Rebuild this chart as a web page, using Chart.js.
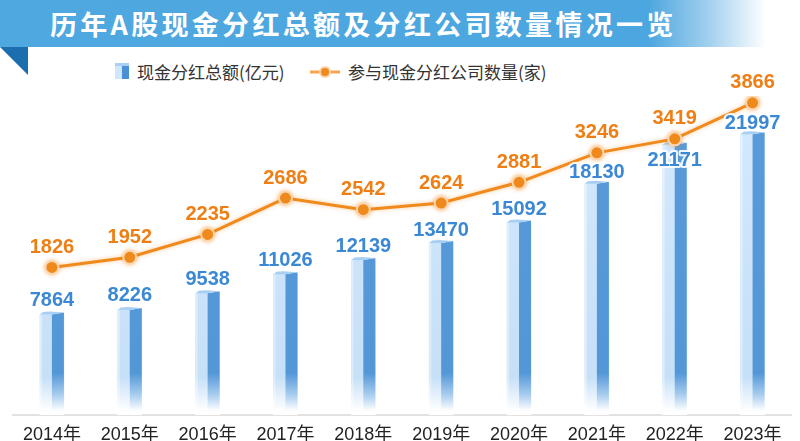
<!DOCTYPE html>
<html>
<head>
<meta charset="utf-8">
<script src="https://cdn.jsdelivr.net/npm/chart.js@4.4.1/dist/chart.umd.min.js"></script>
<style>
    html, body { margin: 0; padding: 0; background: #fff; }
    #wrap { position: relative; width: 800px; height: 441px; overflow: hidden; font-family: "Noto Sans CJK SC", sans-serif; }
    #banner {
        position: absolute; left: 0; top: 0; width: 790px; height: 47px;
        background: linear-gradient(to right, #4fa8e0 0%, #4ca6df 82%, rgba(92,172,226,0.55) 90%, rgba(255,255,255,0) 97%);
    }
    #fold { position: absolute; left: 0; top: 47px; width: 28px; height: 28px; background: #1b6fae; clip-path: polygon(0 0, 100% 0, 100% 100%); }
    #title { position: absolute; left: 50px; top: 0; height: 47px; line-height: 47px; color: #fff; font-weight: bold; font-size: 27px; letter-spacing: 3.3px; white-space: nowrap; }
    .lg { position: absolute; top: 61px; height: 22px; line-height: 22px; font-size: 17px; color: #333; white-space: nowrap; }
    #cube { position: absolute; left: 115px; top: 65px; width: 14px; height: 14px; background: linear-gradient(to right, #cfe6fb 0 50%, #4a90d6 50% 100%); }
    #cube::before { content: ""; position: absolute; left: 0; top: -2px; width: 14px; height: 3px; background: #a9d0f3; }
    #dot { position: absolute; left: 310px; top: 65px; }
    canvas { position: absolute; left: 0; top: 0; }
</style>
</head>
<body>
<div id="wrap">
    <div id="banner"></div>
    <div id="fold"></div>
    <div id="title">历年A股现金分红总额及分红公司数量情况一览</div>
    <div id="cube"></div>
    <div class="lg" style="left:137px">现金分红总额(亿元)</div>
    <svg id="dot" width="30" height="14" viewBox="0 0 30 14">
        <line x1="0" y1="7" x2="30" y2="7" stroke="#f6a451" stroke-width="3"/>
        <circle cx="15" cy="7" r="5" fill="#f08a1c" stroke="#fcd3a6" stroke-width="2"/>
    </svg>
    <div class="lg" style="left:348px">参与现金分红公司数量(家)</div>
    <canvas id="chart" width="800" height="441"></canvas>
</div>
<script>
const years = ["2014年", "2015年", "2016年", "2017年", "2018年", "2019年", "2020年", "2021年", "2022年", "2023年"];
const dividendTotal = [7864, 8226, 9538, 11026, 12139, 13470, 15092, 18130, 21171, 21997];
const companyCount = [1826, 1952, 2235, 2686, 2542, 2624, 2881, 3246, 3419, 3866];

// label placement (px from bar top), some labels sit lower to dodge the line
const barLabelShift = [-14, -14, -14, -14, -14, -13, -13, -11, 16, -11];

const blueText = "#3b88d4";
const orange = "#f08a1c";
const orangeText = "#ef7f14";
const numFont = "bold 20px 'Liberation Sans', Arial, sans-serif";

function fadeGradient(ctx, area, stops) {
    const g = ctx.createLinearGradient(0, area.top, 0, area.bottom);
    const h = area.bottom - area.top;
    stops.forEach(function (s) {
        const p = s[0] < 0 ? (h + s[0]) / h : s[0];
        g.addColorStop(Math.min(1, Math.max(0, p)), s[1]);
    });
    return g;
}

function leftFace(context) {
    const chart = context.chart;
    const area = chart.chartArea;
    if (!area) return "#cfe6fb";
    return fadeGradient(chart.ctx, area, [[0, "#d4e9fd"], [-38, "#c6e0f8"], [-4, "#ffffff"], [1, "#ffffff"]]);
}

const cuboidPlugin = {
    id: "cuboid",
    beforeDatasetDraw(chart, args) {
        if (args.meta.type === "line") {
            chart.ctx.save();
            chart.ctx.shadowColor = "rgba(240,138,28,0.45)";
            chart.ctx.shadowBlur = 4;
        }
    },
    afterDatasetDraw(chart, args) {
        const ctx = chart.ctx;
        if (args.meta.type === "line") {
            ctx.restore();
            return;
        }
        if (args.meta.type !== "bar") return;
        const area = chart.chartArea;
        const dark = fadeGradient(ctx, area, [[0, "#5a9bd9"], [-42, "#5397d7"], [-20, "#a9cdef"], [-4, "#ffffff"], [1, "#ffffff"]]);
        const edge = fadeGradient(ctx, area, [[0, "#e6f3fe"], [-38, "#dbecfb"], [-4, "#ffffff"], [1, "#ffffff"]]);
        args.meta.data.forEach(function (el) {
            const p = el.getProps(["x", "y", "base", "width"], true);
            const x0 = p.x - p.width / 2, xm = p.x, x1 = p.x + p.width / 2;
            const y = p.y, b = p.base;
            // light strip on left edge
            ctx.fillStyle = edge;
            ctx.fillRect(x0, y, 2, b - y);
            // dark right face
            ctx.fillStyle = dark;
            ctx.beginPath();
            ctx.moveTo(xm, y);
            ctx.lineTo(x1, y - 2);
            ctx.lineTo(x1, b);
            ctx.lineTo(xm, b);
            ctx.closePath();
            ctx.fill();
            // top cap
            ctx.fillStyle = "#a6cff3";
            ctx.beginPath();
            ctx.moveTo(x0, y);
            ctx.lineTo(xm, y);
            ctx.lineTo(x1, y - 2);
            ctx.lineTo(xm - 2, y - 3);
            ctx.lineTo(x0 + 3, y - 2.5);
            ctx.closePath();
            ctx.fill();
        });
    },
    afterDatasetsDraw(chart) {
        const ctx = chart.ctx;
        ctx.save();
        ctx.font = numFont;
        ctx.textAlign = "center";
        ctx.textBaseline = "middle";
        ctx.lineJoin = "round";
        chart.data.datasets.forEach(function (ds, di) {
            const meta = chart.getDatasetMeta(di);
            meta.data.forEach(function (el, i) {
                const isBar = meta.type === "bar";
                const tx = el.x;
                const ty = isBar ? el.y + barLabelShift[i] : el.y - 20;
                const txt = String(ds.data[i]);
                ctx.strokeStyle = "rgba(255,255,255,0.9)";
                ctx.lineWidth = 4;
                ctx.strokeText(txt, tx, ty);
                ctx.fillStyle = isBar ? blueText : orangeText;
                ctx.fillText(txt, tx, ty);
            });
        });
        ctx.restore();
    }
};

new Chart(document.getElementById("chart"), {
    data: {
        labels: years,
        datasets: [{
            type: "line",
            label: "参与现金分红公司数量(家)",
            data: companyCount,
            yAxisID: "y2",
            order: 1,
            borderColor: orange,
            borderWidth: 3,
            tension: 0,
            pointRadius: 6.5,
            pointHoverRadius: 6.5,
            pointBackgroundColor: orange,
            pointBorderColor: "#fcd6ae",
            pointBorderWidth: 2
        }, {
            type: "bar",
            label: "现金分红总额(亿元)",
            data: dividendTotal,
            yAxisID: "y",
            order: 2,
            barThickness: 24,
            backgroundColor: leftFace,
            borderWidth: 0
        }]
    },
    options: {
        responsive: false,
        animation: false,
        layout: { padding: { left: 13, right: 1, top: 96, bottom: -13.5 } },
        plugins: {
            legend: { display: false },
            tooltip: { enabled: false }
        },
        scales: {
            x: {
                offset: true,
                grid: { display: false, drawTicks: false },
                border: { display: true, color: "#e2e2e2", width: 2 },
                ticks: {
                    color: "#222",
                    padding: 9,
                    maxRotation: 0,
                    autoSkip: false,
                    font: { size: 18, family: "'Liberation Sans', 'Noto Sans CJK SC', sans-serif" }
                }
            },
            y: { display: false, min: 0, max: 25000 },
            y2: { display: false, min: 0, max: 3950 }
        }
    },
    plugins: [cuboidPlugin]
});
</script>
</body>
</html>
